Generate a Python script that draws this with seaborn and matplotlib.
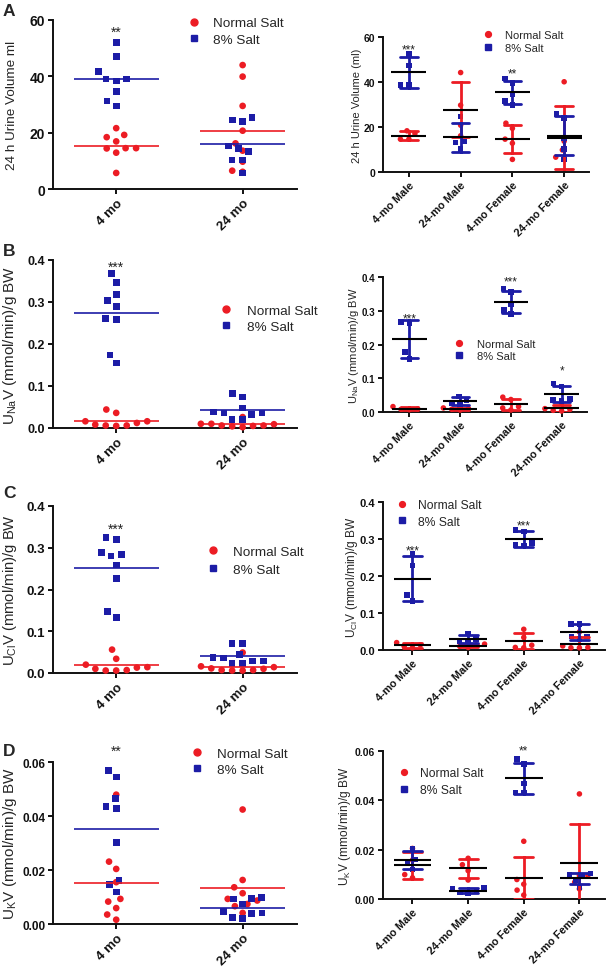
import warnings

import matplotlib

matplotlib.use("Agg")
import matplotlib.pyplot as plt
from matplotlib.lines import Line2D
import numpy as np
import pandas as pd
import seaborn as sns

warnings.filterwarnings("ignore")

RED = "#ec1c24"
BLUE = "#1c1ca6"
DIETS = ["Normal Salt", "8% Salt"]
AGES = ["4 mo", "24 mo"]
GROUPS = ["4-mo Male", "24-mo Male", "4-mo Female", "24-mo Female"]

# ---- A: 24 h urine volume (ml)
vol_age_normal = {"4 mo": [21.6, 19.2, 18.4, 16.9, 14.5, 14.5, 14.4, 12.9, 5.7],
                  "24 mo": [44.0, 39.9, 29.5, 20.7, 16.2, 13.6, 9.7, 6.5, 6.1]}
vol_age_salt = {"4 mo": [51.9, 47.0, 41.6, 39.0, 39.0, 38.4, 34.5, 31.3, 29.5],
                "24 mo": [25.5, 24.5, 24.0, 15.3, 14.4, 13.2, 10.3, 10.3, 5.7]}
vol_grp_normal = {"4-mo Male": [18.3, 17.1, 14.6, 14.6],
                  "24-mo Male": [44.2, 29.7, 20.8, 16.1],
                  "4-mo Female": [21.7, 19.4, 14.6, 12.8, 5.6],
                  "24-mo Female": [40.1, 13.7, 9.8, 6.6, 6.3]}
vol_grp_salt = {"4-mo Male": [52.4, 47.4, 38.7, 38.6],
                "24-mo Male": [24.7, 13.6, 13.1, 10.3],
                "4-mo Female": [41.5, 39.6, 34.6, 31.5, 29.8],
                "24-mo Female": [25.7, 24.1, 15.2, 10.3, 5.6]}
vol_age_sig = {"4 mo": ("**", 57.0)}
vol_grp_sig = {"4-mo Male": ("***", 56.0), "4-mo Female": ("**", 45.5)}

# ---- B: UNaV (mmol/min)/g BW
una_age_normal = {"4 mo": [0.044, 0.036, 0.016, 0.016, 0.012, 0.008, 0.006, 0.006, 0.005],
                  "24 mo": [0.026, 0.010, 0.010, 0.009, 0.006, 0.006, 0.005, 0.004, 0.002]}
una_age_salt = {"4 mo": [0.368, 0.347, 0.318, 0.303, 0.289, 0.260, 0.258, 0.174, 0.155],
                "24 mo": [0.082, 0.074, 0.048, 0.038, 0.036, 0.036, 0.032, 0.021, 0.020]}
una_grp_normal = {"4-mo Male": [0.016, 0.009, 0.008, 0.007],
                  "24-mo Male": [0.012, 0.010, 0.008, 0.006],
                  "4-mo Female": [0.044, 0.037, 0.016, 0.012, 0.006],
                  "24-mo Female": [0.027, 0.010, 0.008, 0.005, 0.003]}
una_grp_salt = {"4-mo Male": [0.266, 0.262, 0.177, 0.157],
                "24-mo Male": [0.046, 0.036, 0.027, 0.020],
                "4-mo Female": [0.366, 0.355, 0.320, 0.303, 0.290],
                "24-mo Female": [0.084, 0.076, 0.038, 0.036, 0.034]}
una_age_sig = {"4 mo": ("***", 0.392)}
una_grp_sig = {"4-mo Male": ("***", 0.287), "4-mo Female": ("***", 0.396),
               "24-mo Female": ("*", 0.134)}

# ---- C: UClV (mmol/min)/g BW
ucl_age_normal = {"4 mo": [0.056, 0.034, 0.020, 0.014, 0.013, 0.010, 0.007, 0.006, 0.006],
                  "24 mo": [0.049, 0.016, 0.014, 0.011, 0.010, 0.007, 0.007, 0.006, 0.006]}
ucl_age_salt = {"4 mo": [0.324, 0.319, 0.288, 0.284, 0.280, 0.259, 0.226, 0.147, 0.133],
                "24 mo": [0.071, 0.071, 0.045, 0.037, 0.036, 0.029, 0.029, 0.023, 0.022]}
ucl_grp_normal = {"4-mo Male": [0.020, 0.014, 0.010, 0.006],
                  "24-mo Male": [0.016, 0.014, 0.010, 0.007],
                  "4-mo Female": [0.056, 0.034, 0.013, 0.007, 0.006],
                  "24-mo Female": [0.049, 0.011, 0.007, 0.006, 0.006]}
ucl_grp_salt = {"4-mo Male": [0.259, 0.228, 0.149, 0.133],
                "24-mo Male": [0.045, 0.029, 0.023, 0.022],
                "4-mo Female": [0.324, 0.320, 0.289, 0.284, 0.282],
                "24-mo Female": [0.071, 0.071, 0.037, 0.036, 0.029]}
ucl_age_sig = {"4 mo": ("***", 0.355)}
ucl_grp_sig = {"4-mo Male": ("***", 0.278), "4-mo Female": ("***", 0.345)}

# ---- D: UKV (mmol/min)/g BW
uk_age_normal = {"4 mo": [0.0479, 0.0231, 0.0204, 0.0155, 0.0093, 0.0083, 0.0059, 0.0035, 0.0016],
                 "24 mo": [0.0424, 0.0163, 0.0136, 0.0114, 0.0093, 0.0087, 0.0074, 0.0066, 0.0041]}
uk_age_salt = {"4 mo": [0.0569, 0.0544, 0.0466, 0.0435, 0.0429, 0.0301, 0.0161, 0.0146, 0.0118],
               "24 mo": [0.0097, 0.0095, 0.0093, 0.0074, 0.0046, 0.0041, 0.0040, 0.0025, 0.0021]}
uk_grp_normal = {"4-mo Male": [0.0205, 0.0158, 0.0099, 0.0086],
                 "24-mo Male": [0.0165, 0.0139, 0.0115, 0.0077],
                 "4-mo Female": [0.0234, 0.0079, 0.0060, 0.0036, 0.0016],
                 "24-mo Female": [0.0426, 0.0095, 0.0095, 0.0068, 0.0041]}
uk_grp_salt = {"4-mo Male": [0.0205, 0.0161, 0.0146, 0.0120],
               "24-mo Male": [0.0045, 0.0043, 0.0030, 0.0026, 0.0022],
               "4-mo Female": [0.0567, 0.0547, 0.0469, 0.0432, 0.0432],
               "24-mo Female": [0.0104, 0.0098, 0.0094, 0.0075, 0.0046]}
uk_age_sig = {"4 mo": ("**", 0.0654)}
uk_grp_sig = {"4-mo Female": ("**", 0.0615)}

W, H = 610, 970


def frac_rect(box):
    l, r, t, b = box
    return [l / W, 1 - b / H, (r - l) / W, (b - t) / H]


def long_frame(normal, salt):
    rows = []
    for diet, table in zip(DIETS, (normal, salt)):
        for group, vals in table.items():
            rows += [(group, diet, v) for v in vals]
    return pd.DataFrame(rows, columns=["group", "diet", "value"])


def draw_points(ax, df, order, size, pad):
    for diet, color, marker in zip(DIETS, (RED, BLUE), ("o", "s")):
        sns.swarmplot(data=df[df["diet"] == diet], x="group", y="value",
                      order=order, color=color, marker=marker, size=size,
                      linewidth=pad, edgecolor="none", clip_on=False, ax=ax)


def draw_means(ax, df, order, half, colors, lw):
    means = df.groupby(["diet", "group"])["value"].mean()
    for i, g in enumerate(order):
        for diet, color in zip(DIETS, colors):
            ax.hlines(means[(diet, g)], i - half, i + half, color=color,
                      lw=lw, zorder=6)


def draw_sd(ax, df, order):
    sns.pointplot(data=df, x="group", y="value", hue="diet", order=order,
                  hue_order=DIETS, palette=[RED, BLUE], errorbar="sd",
                  capsize=0.34, marker="", linestyle="none",
                  err_kws={"linewidth": 2.0, "zorder": 5}, legend=False, ax=ax)


def style_axis(ax, order, xlim, ymax, step, fmt, tick_fs, xtick_fs):
    ticks = np.arange(0, ymax + step / 2, step)
    ax.set_xlim(*xlim)
    ax.set_ylim(0, ymax)
    ax.set_yticks(ticks)
    ax.set_yticklabels([fmt % t for t in ticks], fontsize=tick_fs, fontweight="bold")
    ax.set_xticks(range(len(order)))
    ax.set_xticklabels(order, fontsize=xtick_fs, fontweight="bold", rotation=45,
                       ha="right", va="top", rotation_mode="anchor")
    ax.set_xlabel("")
    ax.set_ylabel("")
    sns.despine(ax=ax)
    for s in ("left", "bottom"):
        ax.spines[s].set_linewidth(1.4)
    ax.tick_params(width=1.4, length=3.5, direction="out", pad=2, colors="#111111")


def add_sig(ax, order, sig, fs):
    for g, (txt, y) in sig.items():
        ax.annotate(txt, xy=(order.index(g), y), xytext=(0, -0.55 * fs),
                    textcoords="offset points", ha="center", va="baseline",
                    fontsize=fs, color="#222222", annotation_clip=False)


def add_legend(ax, leg, fs, ms):
    mx, my, tx, row = leg
    fs_px = fs * 100 / 72
    hl = 0.8
    handles = [Line2D([], [], ls="none", marker="o", color=RED, ms=ms),
               Line2D([], [], ls="none", marker="s", color=BLUE, ms=ms)]
    ax.legend(handles, DIETS, loc="center left", frameon=False, fontsize=fs,
              bbox_to_anchor=((mx - hl * fs_px / 2) / W, 1 - (my + row / 2) / H),
              bbox_transform=ax.figure.transFigure, borderpad=0, borderaxespad=0,
              handlelength=hl, handletextpad=(tx - mx - hl * fs_px / 2) / fs_px,
              labelspacing=(row - 1.12 * fs_px) / fs_px)


panels = [
    dict(letter="A", letter_y=12,
         age=(vol_age_normal, vol_age_salt), age_sig=vol_age_sig,
         grp=(vol_grp_normal, vol_grp_salt), grp_sig=vol_grp_sig,
         ylab_l="24 h Urine Volume ml", ylab_r="24 h Urine Volume (ml)",
         ymax=60, step=20, fmt="%d",
         box_l=(53, 297, 21, 190), box_r=(383, 589, 38, 173), xlim_r=(-0.5, 3.48),
         tick_l=10.0, tick_r=7.5, lab_l=9.7, lab_r=8.0, labx_l=12, labx_r=357,
         leg_l=(194, 22.7, 213, 19), leg_r=(488, 34.3, 505, 15.7), legfs_r=8.0),
    dict(letter="B", letter_y=252,
         age=(una_age_normal, una_age_salt), age_sig=una_age_sig,
         grp=(una_grp_normal, una_grp_salt), grp_sig=una_grp_sig,
         ylab_l=r"U$_{Na}$V (mmol/min)/g BW", ylab_r=r"U$_{Na}$V (mmol/min)/g BW",
         ymax=0.4, step=0.1, fmt="%.1f",
         box_l=(53, 297, 261, 429), box_r=(383, 587, 278, 413), xlim_r=(-0.52, 3.5),
         tick_l=9.0, tick_r=7.0, lab_l=11.0, lab_r=8.0, labx_l=10, labx_r=354,
         leg_l=(226, 310, 247, 19), leg_r=(459, 343.3, 477, 15), legfs_r=8.0),
    dict(letter="C", letter_y=494,
         age=(ucl_age_normal, ucl_age_salt), age_sig=ucl_age_sig,
         grp=(ucl_grp_normal, ucl_grp_salt), grp_sig=ucl_grp_sig,
         ylab_l=r"U$_{Cl}$V (mmol/min)/g BW", ylab_r=r"U$_{Cl}$V (mmol/min)/g BW",
         ymax=0.4, step=0.1, fmt="%.1f",
         box_l=(53, 297, 507, 674), box_r=(383, 605, 503, 651), xlim_r=(-0.53, 3.46),
         tick_l=9.5, tick_r=8.0, lab_l=10.7, lab_r=8.6, labx_l=10, labx_r=352,
         leg_l=(213, 551, 233, 20.7), leg_r=(402, 505.7, 418, 17.6), legfs_r=8.7),
    dict(letter="D", letter_y=752,
         age=(uk_age_normal, uk_age_salt), age_sig=uk_age_sig,
         grp=(uk_grp_normal, uk_grp_salt), grp_sig=uk_grp_sig,
         ylab_l=r"U$_{K}$V (mmol/min)/g BW", ylab_r=r"U$_{K}$V (mmol/min)/g BW",
         ymax=0.06, step=0.02, fmt="%.2f",
         box_l=(53, 297, 763, 925), box_r=(383, 605, 752, 900), xlim_r=(-0.53, 3.46),
         tick_l=8.5, tick_r=7.5, lab_l=11.0, lab_r=8.6, labx_l=10, labx_r=345,
         leg_l=(197, 753.3, 217, 18.4), leg_r=(404, 773.3, 420, 18.4), legfs_r=8.7),
]


def main():
    sns.set_theme(style="ticks")
    plt.rcParams["font.family"] = ["Liberation Sans", "DejaVu Sans"]
    plt.rcParams["mathtext.default"] = "regular"
    plt.rcParams["axes.edgecolor"] = "#111111"

    fig = plt.figure(figsize=(W / 100, H / 100), dpi=100)
    fig.patch.set_facecolor("white")

    for p in panels:
        # left: pooled by age
        ax = fig.add_axes(frac_rect(p["box_l"]))
        df = long_frame(*p["age"])
        draw_points(ax, df, AGES, size=4.8, pad=2.4)
        draw_means(ax, df, AGES, 0.335, (RED, BLUE), 1.2)
        style_axis(ax, AGES, (-0.5, 1.43), p["ymax"], p["step"], p["fmt"],
                   p["tick_l"], 9.5)
        add_sig(ax, AGES, p["age_sig"], 10)
        add_legend(ax, p["leg_l"], 9.7, 5.0)
        l, r, t, b = p["box_l"]
        fig.text(p["labx_l"] / W, 1 - (t + b) / 2 / H, p["ylab_l"], rotation=90,
                 ha="center", va="center", fontsize=p["lab_l"])
        fig.text(3 / W, 1 - p["letter_y"] / H, p["letter"], fontsize=12.5,
                 fontweight="bold", ha="left", va="center")

        # right: by age and sex, mean +/- SD
        ax = fig.add_axes(frac_rect(p["box_r"]))
        df = long_frame(*p["grp"])
        draw_points(ax, df, GROUPS, size=4.0, pad=1.8)
        draw_sd(ax, df, GROUPS)
        draw_means(ax, df, GROUPS, 0.34, ("black", "black"), 1.5)
        style_axis(ax, GROUPS, p["xlim_r"], p["ymax"], p["step"], p["fmt"],
                   p["tick_r"], 7.8)
        add_sig(ax, GROUPS, p["grp_sig"], 8.5)
        add_legend(ax, p["leg_r"], p["legfs_r"], 4.2)
        l, r, t, b = p["box_r"]
        fig.text(p["labx_r"] / W, 1 - (t + b) / 2 / H, p["ylab_r"], rotation=90,
                 ha="center", va="center", fontsize=p["lab_r"])

    fig.savefig("out.png", dpi=100, facecolor="white")


if __name__ == "__main__":
    main()
